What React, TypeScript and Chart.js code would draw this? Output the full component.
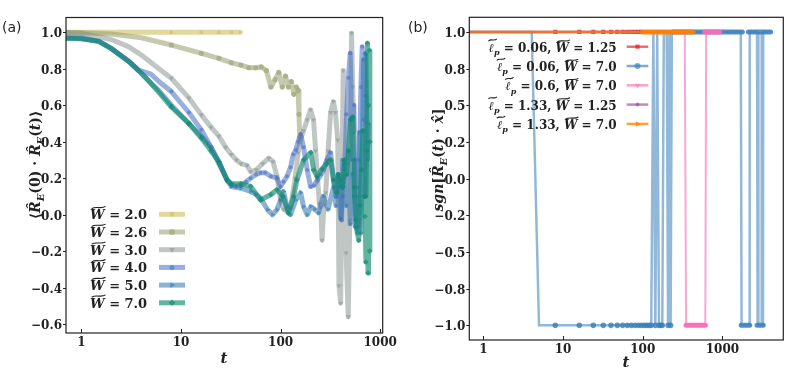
import React, { useEffect, useRef } from 'react';
import { Chart, registerables } from 'chart.js';
import { drawPoint } from 'chart.js/helpers';

Chart.register(...registerables);

// ---------------- Panel (a) data ----------------
const A_X_TICKS = [1, 10, 100, 1000];
const A_X_LABELS = ['1', '10', '100', '1000'];
const A_Y_TICKS = [-0.6, -0.4, -0.2, 0, 0.2, 0.4, 0.6, 0.8, 1.0];
const A_Y_LABELS = ['−0.6', '−0.4', '−0.2', '0.0', '0.2', '0.4', '0.6', '0.8', '1.0'];
const A_NAMES = ['2.0', '2.6', '3.0', '4.0', '5.0', '7.0'];

const W20_T = [0.5, 1, 2, 4, 8, 16, 24, 32, 40];
const W20_V = [1, 1, 1, 1, 1, 1, 1, 1, 1];

const W26_T = [0.5, 1, 2, 4, 8, 16, 24, 32, 40, 48, 56, 64, 72, 80, 88, 96, 104, 112, 120, 128, 136, 144, 150, 153, 156];
const W26_V = [1, 0.997, 0.99, 0.97, 0.93, 0.885, 0.857, 0.833, 0.82, 0.806, 0.805, 0.81, 0.79, 0.70, 0.74, 0.78, 0.70, 0.76, 0.70, 0.73, 0.66, 0.70, 0.68, 0.55, 0.42];

const W30_T = [0.5, 1, 2, 3, 4, 6, 8, 12, 16, 20, 24, 28, 32, 36, 40, 46, 50, 57, 66, 76, 84, 92, 100, 107, 115, 126, 140, 150, 160, 170, 185, 200, 214, 225, 235, 245, 253, 261, 272, 284, 300, 318, 339, 355, 375, 386, 401, 412, 426, 440, 455, 478, 495, 516, 530, 545];
const W30_V = [1, 0.995, 0.96, 0.92, 0.875, 0.80, 0.748, 0.64, 0.547, 0.48, 0.43, 0.37, 0.33, 0.30, 0.28, 0.27, 0.236, 0.245, 0.28, 0.31, 0.29, 0.21, 0.08, 0.03, 0.02, 0.04, 0.20, 0.34, 0.42, 0.46, 0.52, 0.575, 0.52, 0.35, 0.20, 0.06, 0.04, -0.14, 0.05, 0.12, 0.35, 0.56, 0.62, 0.56, 0.41, -0.39, -0.485, 0.15, 0.79, 0.20, -0.21, -0.56, -0.03, 0.995, 0.70, 0.45];

const W40_T = [0.5, 1, 1.5, 2, 3, 3.75, 5, 6, 8, 12, 16, 20, 24, 29, 32, 36, 40, 45, 50, 57, 63, 70, 80, 92, 100, 107, 116, 126, 134, 142, 150, 159, 170, 185, 200, 215, 235, 255, 270, 290, 318, 340, 360, 380, 400, 410, 420, 440, 460, 480, 500, 516, 530, 545, 560, 585, 600, 620, 640, 660, 680, 700, 710, 720, 735];
const W40_V = [0.975, 0.97, 0.95, 0.912, 0.84, 0.793, 0.77, 0.73, 0.675, 0.56, 0.465, 0.37, 0.28, 0.19, 0.165, 0.155, 0.16, 0.18, 0.20, 0.22, 0.23, 0.23, 0.21, 0.20, 0.154, 0.18, 0.21, 0.26, 0.33, 0.355, 0.40, 0.44, 0.37, 0.245, 0.154, 0.16, 0.19, 0.22, 0.245, 0.30, 0.34, 0.19, 0.10, 0.22, 0.154, -0.03, 0.30, 0.25, 0.55, 0.75, 0.885, 0.52, 0.30, 0.60, -0.065, 0.10, -0.065, 0.30, 0.70, 0.92, 0.52, 0.885, 0.65, 0.10, 0.40];

const W50_T = [0.5, 1, 1.5, 2, 3, 3.75, 5, 6, 8, 12, 16, 20, 24, 29, 32, 40, 50, 57, 63, 74, 83, 92, 100, 107, 116, 126, 142, 159, 170, 185, 201, 220, 240, 268, 300, 340, 360, 380, 400, 420, 440, 460, 480, 500, 520, 540, 560, 580, 600, 620, 640, 660, 680, 700, 720, 740, 760];
const W50_V = [0.97, 0.965, 0.95, 0.91, 0.84, 0.79, 0.72, 0.68, 0.60, 0.50, 0.43, 0.37, 0.29, 0.19, 0.154, 0.145, 0.127, 0.11, 0.09, 0.027, 0.0, 0.027, 0.08, 0.127, 0.044, 0.0, 0.08, 0.12, 0.044, 0.0, 0.044, 0.03, 0.01, 0.10, 0.03, 0.15, 0.05, 0.20, -0.02, 0.10, 0.28, 0.05, 0.35, -0.05, 0.22, 0.10, 0.30, -0.08, 0.15, 0.45, -0.10, 0.25, 0.85, 0.10, 0.88, 0.30, 0.50];

const W70_T = [0.5, 1, 1.5, 2, 3, 3.75, 5, 6, 8, 12, 16, 20, 24, 29, 32, 40, 50, 63, 80, 92, 106, 120, 135, 146, 170, 201, 215, 232, 260, 290, 318, 340, 365, 380, 400, 420, 440, 460, 480, 505, 530, 550, 570, 590, 610, 630, 650, 670, 690, 705, 720, 735, 745, 755, 765, 775, 785, 790];
const W70_V = [0.97, 0.965, 0.95, 0.91, 0.84, 0.79, 0.72, 0.67, 0.59, 0.50, 0.42, 0.35, 0.29, 0.19, 0.17, 0.17, 0.155, 0.08, 0.11, 0.136, 0.10, 0.008, 0.10, 0.19, 0.30, 0.34, 0.245, 0.21, 0.25, 0.28, 0.30, 0.19, 0.12, 0.22, 0.19, 0.15, 0.30, 0.22, 0.35, 0.52, 0.535, 0.15, -0.03, -0.10, -0.14, 0.05, 0.245, 0.46, 0.10, -0.01, -0.26, 0.35, 0.94, -0.32, 0.60, 0.90, -0.20, 0.40];

const A_T = [W20_T, W26_T, W30_T, W40_T, W50_T, W70_T];
const A_V = [W20_V, W26_V, W30_V, W40_V, W50_V, W70_V];

// ---------------- Panel (b) data ----------------
const B_X_TICKS = [1, 10, 100, 1000];
const B_X_LABELS = ['1', '10', '100', '1000'];
const B_Y_TICKS = [-1, -0.75, -0.5, -0.25, 0, 0.25, 0.5, 0.75, 1];
const B_Y_LABELS = ['−1.0', '−0.8', '−0.5', '−0.2', '0.0', '0.2', '0.5', '0.8', '1.0'];
const B_LP = ['0.06', '0.06', '0.6', '1.33', '1.33'];
const B_W = ['1.25', '7.0', '7.0', '1.25', '7.0'];

const RED_LINE_T = [0.6, 400];
const RED_LINE_V = [1, 1];
const RED_MARK_T = [8, 16, 24, 32, 40, 48, 56, 64, 72, 80, 88, 96];
const RED_MARK_V = [1, 1, 1, 1, 1, 1, 1, 1, 1, 1, 1, 1];

const BLUE_LINE_T = [0.6, 4.05, 5.0, 128, 136, 144, 152, 160, 176, 184, 200, 208, 216, 224, 232, 1700, 1740, 2180, 2200, 2720, 2740, 2790, 2810, 2830, 3080, 3100, 3120, 3230, 3250, 4030];
const BLUE_LINE_V = [1, 1, -1, -1, 1, -1, 1, -1, -1, 1, 1, -1, 1, -1, 1, 1, -1, -1, 1, 1, -1, -1, 1, -1, -1, 1, -1, -1, 1, 1];
const BLUE_MARK_T = [8, 16, 24, 32, 40, 48, 56, 64, 72, 80, 88, 96, 104, 112, 120, 128, 144, 160, 168, 176, 208, 224];
const BLUE_MARK_V = [-1, -1, -1, -1, -1, -1, -1, -1, -1, -1, -1, -1, -1, -1, -1, -1, -1, -1, -1, -1, -1, -1];
const BLUE_BAND_T0 = [240, 2120, 1720, 2720];
const BLUE_BAND_T1 = [1780, 4030, 2200, 3250];
const BLUE_BAND_V = [1, 1, -1, -1];

const PINK_LINE_T = [0.6, 337, 350, 610, 625, 930];
const PINK_LINE_V = [1, 1, -1, -1, 1, 1];
const PINK_BAND_T0 = [350, 600];
const PINK_BAND_T1 = [610, 930];
const PINK_BAND_V = [-1, 1];

const PURPLE_LINE_T = [0.6, 400];
const PURPLE_LINE_V = [1, 1];

const ORANGE_LINE_T = [0.6, 430];
const ORANGE_LINE_V = [1, 1];
const ORANGE_BAND_T0 = [100];
const ORANGE_BAND_T1 = [400];
const ORANGE_BAND_V = [1];
const ORANGE_MARK_T = [430];
const ORANGE_MARK_V = [1];

// ---------------- styles ----------------
const SERIF = '"DejaVu Serif", serif';
const TICK_FONT = `bold 12px ${SERIF}`;
const INK = '#222';
const A_COLORS = [
  'rgba(205,190,95,0.6)',
  'rgba(150,158,110,0.55)',
  'rgba(128,142,135,0.5)',
  'rgba(70,110,195,0.55)',
  'rgba(45,115,175,0.55)',
  'rgba(15,140,110,0.65)',
];
const A_STYLES = ['rect', 'circle', 'triangle', 'circle', 'triangle', 'rectRot'];
const A_ROT = [0, 0, 180, 0, 90, 0];
const A_RAD = [2.6, 2.6, 2.8, 2.0, 2.8, 2.8];

const RED = 'rgba(228,26,28,0.6)';
const BLUE = 'rgba(55,126,184,0.55)';
const BLUE_D = 'rgba(55,126,184,0.85)';
const PINK = 'rgba(247,129,191,0.7)';
const PINK_D = 'rgba(247,110,185,0.95)';
const PURPLE = 'rgba(152,78,163,0.6)';
const ORANGE = 'rgba(255,127,0,0.7)';
const ORANGE_D = 'rgba(255,127,0,0.9)';

type Seg = { t: string; it?: boolean; sub?: boolean; tilde?: boolean };

function drawMath(ctx: CanvasRenderingContext2D, segs: Seg[], x: number, y: number, size: number, align: 'left' | 'center' | 'right', rotate = false) {
  ctx.save();
  ctx.translate(x, y);
  if (rotate) ctx.rotate(-Math.PI / 2);
  const fontFor = (s: Seg) => `${s.it ? 'italic ' : ''}bold ${s.sub ? Math.round(size * 0.7) : size}px ${SERIF}`;
  let total = 0;
  const ws = segs.map((s) => {
    ctx.font = fontFor(s);
    const w = ctx.measureText(s.t).width;
    total += w;
    return w;
  });
  let cx = align === 'left' ? 0 : align === 'center' ? -total / 2 : -total;
  ctx.textAlign = 'left';
  ctx.textBaseline = 'alphabetic';
  ctx.fillStyle = INK;
  ctx.strokeStyle = INK;
  segs.forEach((s, i) => {
    ctx.font = fontFor(s);
    ctx.fillText(s.t, cx, s.sub ? size * 0.28 : 0);
    if (s.tilde) {
      const w = ws[i];
      const tw = Math.max(w * 0.95, size * 0.7);
      const x0 = cx + w / 2 + size * 0.1 - tw / 2;
      const ty = s.t === 'ℓ' ? -size * 0.98 : -size * 0.9;
      const a = size * 0.09;
      ctx.lineWidth = 1.1;
      ctx.beginPath();
      ctx.moveTo(x0, ty + a);
      ctx.bezierCurveTo(x0 + tw * 0.3, ty - a * 1.6, x0 + tw * 0.7, ty + a * 1.6, x0 + tw, ty - a);
      ctx.stroke();
    }
    cx += ws[i];
  });
  ctx.restore();
}

const pts = (t: number[], v: number[]) => t.map((x, i) => ({ x, y: v[i] }));

function decorPlugin(o: {
  id: string;
  xTicks: number[];
  yTicks: number[];
  yLabels: string[];
  panel: string;
  panelX: number;
  xLabelX: number;
  xLabelY: number;
  yLabel: Seg[];
  yLabelX: number;
  yLabelY: number;
  legend: (ctx: CanvasRenderingContext2D) => void;
}) {
  return {
    id: o.id,
    afterDraw(chart: any) {
      const ctx: CanvasRenderingContext2D = chart.ctx;
      const { left, right, top, bottom } = chart.chartArea;
      const xs = chart.scales.x;
      const ys = chart.scales.y;
      const yMin = ys.min;
      const yMax = ys.max;
      const yPix = (v: number) => ys.top + ((yMax - v) / (yMax - yMin)) * (ys.bottom - ys.top);
      ctx.save();
      ctx.strokeStyle = INK;
      ctx.lineWidth = 1.2;
      ctx.strokeRect(left, top, right - left, bottom - top);
      ctx.lineWidth = 1;
      o.xTicks.forEach((v) => {
        const px = Math.round(xs.getPixelForValue(v)) + 0.5;
        ctx.beginPath();
        ctx.moveTo(px, bottom);
        ctx.lineTo(px, bottom - 4);
        ctx.stroke();
      });
      ctx.font = TICK_FONT;
      ctx.textAlign = 'right';
      ctx.textBaseline = 'middle';
      ctx.fillStyle = INK;
      o.yTicks.forEach((v, i) => {
        const py = Math.round(yPix(v)) + 0.5;
        ctx.beginPath();
        ctx.moveTo(left - 3, py);
        ctx.lineTo(left, py);
        ctx.stroke();
        ctx.fillText(String(o.yLabels[i]), left - 4, py + 1);
      });
      ctx.font = `14px "DejaVu Sans", sans-serif`;
      ctx.textAlign = 'left';
      ctx.textBaseline = 'alphabetic';
      ctx.fillText(o.panel, o.panelX, 32);
      ctx.restore();
      drawMath(ctx, [{ t: 't', it: true }], o.xLabelX, o.xLabelY, 15, 'center');
      drawMath(ctx, o.yLabel, o.yLabelX, o.yLabelY, 14, 'center', true);
      o.legend(ctx);
    },
  };
}

function axisX(min: number, max: number, ticks: number[], labels: string[], height: number, pad: number) {
  return {
    type: 'logarithmic' as const,
    min,
    max,
    afterBuildTicks: (s: any) => {
      s.ticks = ticks.map((v) => ({ value: v }));
    },
    afterFit: (s: any) => {
      s.height = height;
    },
    ticks: {
      autoSkip: false,
      maxRotation: 0,
      padding: pad,
      color: INK,
      font: { family: SERIF, size: 12, weight: 'bold' as const },
      callback: (_v: any, i: number) => labels[i],
    },
    grid: { display: false, drawTicks: false },
    border: { display: false },
  };
}

function axisY(min: number, max: number, width: number) {
  return {
    type: 'linear' as const,
    min,
    max,
    afterFit: (s: any) => {
      s.width = width;
    },
    ticks: { display: false },
    grid: { display: false },
    border: { display: false },
  };
}

function configA(): any {
  const datasets = A_T.map((t, i) => ({
    data: pts(t, A_V[i]),
    fill: false,
    borderColor: A_COLORS[i],
    backgroundColor: A_COLORS[i],
    borderWidth: 5,
    borderJoinStyle: 'round',
    borderCapStyle: 'butt',
    tension: 0,
    pointStyle: A_STYLES[i],
    pointRotation: A_ROT[i],
    pointRadius: (c: any) => (c.raw && c.raw.x >= 8 ? A_RAD[i] : 0),
    pointBorderWidth: 0,
    pointBackgroundColor: A_COLORS[i],
    order: 20 - i,
  }));
  const legend = (ctx: CanvasRenderingContext2D) => {
    A_NAMES.forEach((name, i) => {
      const y = 214.3 + i * 17.7;
      drawMath(ctx, [{ t: 'W', it: true, tilde: true }, { t: ' = ' + name }], 90, y + 5, 13, 'left');
      ctx.save();
      ctx.strokeStyle = A_COLORS[i];
      ctx.lineWidth = 5;
      ctx.beginPath();
      ctx.moveTo(159, y);
      ctx.lineTo(185, y);
      ctx.stroke();
      ctx.fillStyle = A_COLORS[i];
      ctx.strokeStyle = A_COLORS[i];
      drawPoint(ctx, { pointStyle: A_STYLES[i] as any, radius: A_RAD[i] + 0.5, rotation: A_ROT[i], borderWidth: 0 }, 172, y);
      ctx.restore();
    });
  };
  return {
    type: 'line',
    data: { datasets },
    options: {
      responsive: false,
      animation: false,
      layout: { padding: { top: 17.5, right: 17, left: 0, bottom: 0 } },
      plugins: { legend: { display: false }, tooltip: { enabled: false } },
      scales: {
        x: axisX(0.74, 1060, A_X_TICKS, A_X_LABELS, 41, 3),
        y: axisY(-0.649, 1.081, 66),
      },
    },
    plugins: [
      decorPlugin({
        id: 'decorA',
        xTicks: A_X_TICKS,
        yTicks: A_Y_TICKS,
        yLabels: A_Y_LABELS,
        panel: '(a)',
        panelX: 2,
        xLabelX: 224,
        xLabelY: 363,
        yLabel: [
          { t: '⟨' },
          { t: 'R\u0302', it: true },
          { t: 'E', it: true, sub: true },
          { t: '(0) · ' },
          { t: 'R\u0302', it: true },
          { t: 'E', it: true, sub: true },
          { t: '(' },
          { t: 't', it: true },
          { t: ')⟩' },
        ],
        yLabelX: 40,
        yLabelY: 165,
        legend,
      }),
    ],
  };
}

function lineDs(t: number[], v: number[], color: string, width: number, order: number) {
  return {
    data: pts(t, v),
    fill: false,
    borderColor: color,
    backgroundColor: color,
    borderWidth: width,
    borderJoinStyle: 'miter',
    tension: 0,
    pointRadius: 0,
    order,
  };
}
function markDs(t: number[], v: number[], color: string, style: string, rot: number, r: number, order: number) {
  return {
    data: pts(t, v),
    fill: false,
    showLine: false,
    borderColor: color,
    backgroundColor: color,
    pointStyle: style,
    pointRotation: rot,
    pointRadius: r,
    pointBorderWidth: 0,
    pointBackgroundColor: color,
    order,
  };
}
function bandDs(t0: number[], t1: number[], v: number[], color: string, order: number) {
  return t0.map((a, i) => ({
    data: [
      { x: a, y: v[i] },
      { x: t1[i], y: v[i] },
    ],
    fill: false,
    borderColor: color,
    backgroundColor: color,
    borderWidth: 5,
    borderCapStyle: 'round',
    pointRadius: 0,
    order,
  }));
}

const B_LEG_COLORS = ['rgba(228,26,28,0.65)', 'rgba(55,126,184,0.65)', 'rgba(247,129,191,0.75)', 'rgba(152,78,163,0.65)', 'rgba(255,127,0,0.75)'];
const B_STYLES = ['rect', 'circle', 'triangle', 'circle', 'triangle'];
const B_ROT = [0, 0, 180, 0, 90];
const B_RAD = [3, 3, 3.2, 2, 3.2];

function configB(): any {
  const datasets: any[] = [
    lineDs(RED_LINE_T, RED_LINE_V, RED, 2.5, 100),
    markDs(RED_MARK_T, RED_MARK_V, 'rgba(228,26,28,0.75)', 'rect', 0, 3, 99),
    lineDs(BLUE_LINE_T, BLUE_LINE_V, BLUE, 2.5, 90),
    markDs(BLUE_MARK_T, BLUE_MARK_V, 'rgba(55,126,184,0.8)', 'circle', 0, 2.8, 89),
    ...bandDs(BLUE_BAND_T0, BLUE_BAND_T1, BLUE_BAND_V, BLUE_D, 88),
    lineDs(PINK_LINE_T, PINK_LINE_V, PINK, 2, 80),
    ...bandDs(PINK_BAND_T0, PINK_BAND_T1, PINK_BAND_V, PINK_D, 79),
    lineDs(PURPLE_LINE_T, PURPLE_LINE_V, PURPLE, 2.5, 70),
    lineDs(ORANGE_LINE_T, ORANGE_LINE_V, ORANGE, 2.5, 60),
    ...bandDs(ORANGE_BAND_T0, ORANGE_BAND_T1, ORANGE_BAND_V, ORANGE_D, 59),
    markDs(ORANGE_MARK_T, ORANGE_MARK_V, ORANGE_D, 'triangle', 90, 3.5, 58),
  ];
  const legend = (ctx: CanvasRenderingContext2D) => {
    B_LP.forEach((lp, i) => {
      const y = 46.7 + i * 19.3;
      drawMath(
        ctx,
        [
          { t: 'ℓ', it: true, tilde: true },
          { t: 'p', it: true, sub: true },
          { t: ' = ' + lp + ', ' },
          { t: 'W', it: true, tilde: true },
          { t: ' = ' + B_W[i] },
        ],
        216.7,
        y + 5,
        12,
        'right'
      );
      ctx.save();
      ctx.strokeStyle = B_LEG_COLORS[i];
      ctx.lineWidth = 2.5;
      ctx.beginPath();
      ctx.moveTo(226.7, y);
      ctx.lineTo(248.3, y);
      ctx.stroke();
      ctx.fillStyle = B_LEG_COLORS[i];
      drawPoint(ctx, { pointStyle: B_STYLES[i] as any, radius: B_RAD[i], rotation: B_ROT[i], borderWidth: 0 }, 237.5, y);
      ctx.restore();
    });
  };
  return {
    type: 'line',
    data: { datasets },
    options: {
      responsive: false,
      animation: false,
      layout: { padding: { top: 17.3, right: 9.7, left: 0, bottom: 0 } },
      plugins: { legend: { display: false }, tooltip: { enabled: false } },
      scales: {
        x: axisX(0.667, 5808, B_X_TICKS, B_X_LABELS, 34, 3),
        y: axisY(-1.1, 1.1, 69.3),
      },
    },
    plugins: [
      decorPlugin({
        id: 'decorB',
        xTicks: B_X_TICKS,
        yTicks: B_Y_TICKS,
        yLabels: B_Y_LABELS,
        panel: '(b)',
        panelX: 8,
        xLabelX: 226,
        xLabelY: 367,
        yLabel: [
          { t: 'sgn', it: true },
          { t: '[' },
          { t: 'R\u0302', it: true },
          { t: 'E', it: true, sub: true },
          { t: '(' },
          { t: 't', it: true },
          { t: ') · ' },
          { t: 'x\u0302', it: true },
          { t: ']' },
        ],
        yLabelX: 43,
        yLabelY: 160,
        legend,
      }),
    ],
  };
}

export default function App() {
  const refA = useRef<HTMLCanvasElement>(null);
  const refB = useRef<HTMLCanvasElement>(null);
  useEffect(() => {
    document.body.style.margin = '0';
    const a = new Chart(refA.current as HTMLCanvasElement, configA());
    const b = new Chart(refB.current as HTMLCanvasElement, configB());
    return () => {
      a.destroy();
      b.destroy();
    };
  }, []);
  return (
    <div style={{ position: 'relative', width: 793, height: 374, background: '#fff', overflow: 'hidden' }}>
      <canvas ref={refA} width={400} height={374} style={{ position: 'absolute', left: 0, top: 0, width: 400, height: 374 }} />
      <canvas ref={refB} width={393} height={374} style={{ position: 'absolute', left: 400, top: 0, width: 393, height: 374 }} />
    </div>
  );
}
